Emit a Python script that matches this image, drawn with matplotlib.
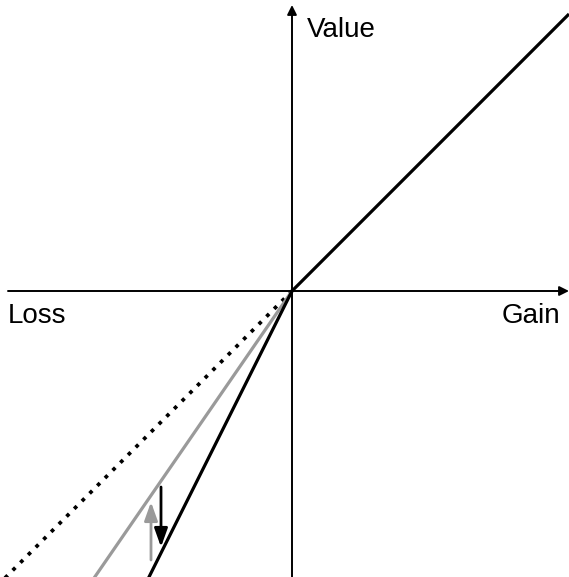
import matplotlib
matplotlib.use("Agg")
import matplotlib.pyplot as plt
import numpy as np

plt.rcParams['font.family'] = ['Liberation Sans', 'DejaVu Sans']

# Value-function slopes (value per unit of gain/loss)
gain_slope = 1.0          # black line, gains
loss_slope_ref = 1.0      # dotted line, losses (symmetric reference)
loss_slope_gray = 1.45    # gray line, losses
loss_slope_black = 2.0    # black line, losses

# arrows: x position, start y, end y
gray_arrow = (-141, -269, -211)
black_arrow = (-131, -196, -256)

labels = {"y": "Value", "xneg": "Loss", "xpos": "Gain"}

W, H = 569, 577
fig = plt.figure(figsize=(W / 100, H / 100), dpi=100)
ax = fig.add_axes([0, 0, 1, 1])
x0, x1 = -292, 277
y0, y1 = -286, 291
ax.set_xlim(x0, x1)
ax.set_ylim(y0, y1)
ax.axis('off')

# axes with arrows
ax.annotate('', xy=(x1, 0), xytext=(-284, 0),
            arrowprops=dict(arrowstyle='-|>', lw=1.4, color='black',
                            mutation_scale=14, shrinkA=0, shrinkB=0))
ax.annotate('', xy=(0, 286), xytext=(0, y0),
            arrowprops=dict(arrowstyle='-|>', lw=1.4, color='black',
                            mutation_scale=14, shrinkA=0, shrinkB=0))

xg = np.array([0, x1])
ax.plot(xg, gain_slope * xg, color='black', lw=2.3, solid_capstyle='butt')

xl = np.array([x0, 0])
ax.plot(xl, loss_slope_ref * xl, color='black', lw=2.7,
        linestyle=(0, (1.0, 1.9)), dash_capstyle='butt')
ax.plot(xl, loss_slope_gray * xl, color='#9a9a9a', lw=2.3, solid_capstyle='butt')
ax.plot(xl, loss_slope_black * xl, color='black', lw=2.3, solid_capstyle='butt')

for (x, ys, ye), c in [(gray_arrow, '#9a9a9a'), (black_arrow, 'black')]:
    ax.annotate('', xy=(x, ye), xytext=(x, ys),
                arrowprops=dict(arrowstyle='-|>,head_length=0.7,head_width=0.25',
                                lw=2.0, color=c,
                                mutation_scale=16, shrinkA=0, shrinkB=0))

ax.text(15, 254, labels["y"], fontsize=20, ha='left', va='baseline')
ax.text(-284, -32, labels["xneg"], fontsize=20, ha='left', va='baseline')
ax.text(268, -32, labels["xpos"], fontsize=20, ha='right', va='baseline')

fig.savefig('out.png', dpi=100)
